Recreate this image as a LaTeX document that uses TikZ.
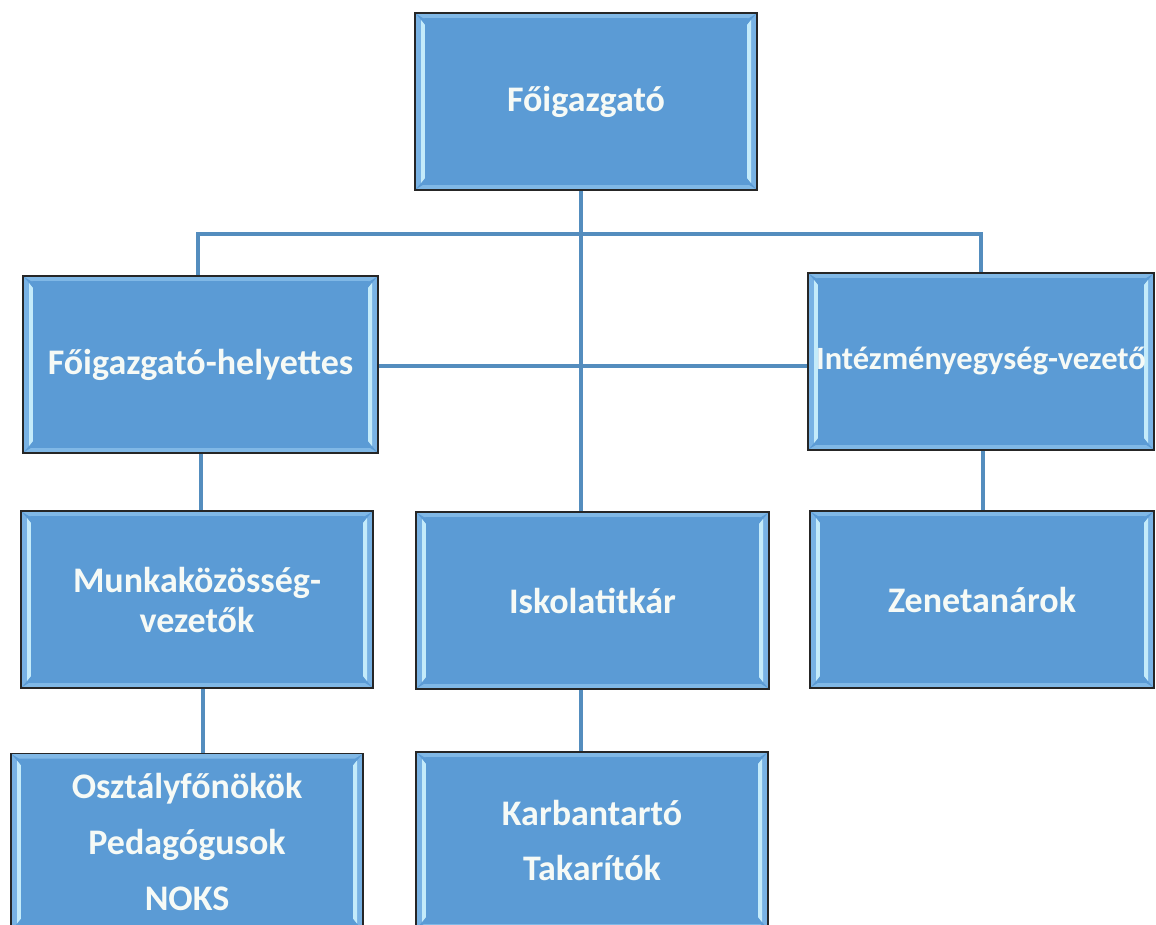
\documentclass[tikz,border=0pt]{standalone}
\usepackage{fontspec}
\setmainfont{Carlito}
\definecolor{boxblue}{RGB}{91,155,213}
\definecolor{bevellight}{RGB}{196,235,250}
\definecolor{beveledge}{RGB}{120,178,228}
\definecolor{bevelband}{RGB}{128,184,230}
\definecolor{linkblue}{RGB}{84,141,190}
\definecolor{txt}{RGB}{246,250,246}
\def\ppb{path picture bounding box}
\pgfdeclarelayer{bg}
\pgfsetlayers{bg,main}
\tikzset{
  orgbox/.style={draw=black!85, line width=1.4pt, fill=boxblue, text=txt,
    align=center, inner sep=0pt,
    font=\bfseries\fontsize{36}{40}\selectfont,
    path picture={
      \fill[bevelband] (\ppb.north west) -- (\ppb.north east)
        -- ([shift={(-8pt,-5pt)}]\ppb.north east) -- ([shift={(8pt,-5pt)}]\ppb.north west) -- cycle;
      \fill[bevelband] (\ppb.south west) -- (\ppb.south east)
        -- ([shift={(-8pt,5pt)}]\ppb.south east) -- ([shift={(8pt,5pt)}]\ppb.south west) -- cycle;
      \fill[beveledge] (\ppb.north west) -- ([shift={(10pt,-12pt)}]\ppb.north west)
        -- ([shift={(10pt,12pt)}]\ppb.south west) -- (\ppb.south west) -- cycle;
      \fill[beveledge] (\ppb.north east) -- ([shift={(-10pt,-12pt)}]\ppb.north east)
        -- ([shift={(-10pt,12pt)}]\ppb.south east) -- (\ppb.south east) -- cycle;
      \fill[bevellight] ([shift={(6pt,-7pt)}]\ppb.north west) -- ([shift={(10pt,-12pt)}]\ppb.north west)
        -- ([shift={(10pt,12pt)}]\ppb.south west) -- ([shift={(6pt,7pt)}]\ppb.south west) -- cycle;
      \fill[bevellight] ([shift={(-6pt,-7pt)}]\ppb.north east) -- ([shift={(-10pt,-12pt)}]\ppb.north east)
        -- ([shift={(-10pt,12pt)}]\ppb.south east) -- ([shift={(-6pt,7pt)}]\ppb.south east) -- cycle;
      \fill[boxblue] ([shift={(10pt,-5pt)}]\ppb.north west) rectangle ([shift={(-10pt,5pt)}]\ppb.south east);
    }},
  link/.style={draw=linkblue, line width=4pt}
}
\begin{document}
\begin{tikzpicture}[x=1pt,y=-1pt]
\useasboundingbox (0,0) rectangle (1156,924);
\clip (0,0) rectangle (1156,924);
\begin{pgfonlayer}{bg}
\fill[white] (0,0) rectangle (1156,924);
\end{pgfonlayer}

\coordinate (trunk) at (581,234);
\coordinate (bl) at (198,234);
\coordinate (br) at (981,234);
\coordinate (mid) at (0,366);
\coordinate (lx) at (201,0);
\coordinate (lx2) at (203,0);
\coordinate (rx) at (983,0);

\node[orgbox, minimum width=342pt, minimum height=177pt] (top) at (586,101.5) {Főigazgató};
\node[orgbox, minimum width=355pt, minimum height=177pt] (fh) at (200.5,364.5) {Főigazgató-helyettes};
\node[orgbox, minimum width=346pt, minimum height=177pt, font=\bfseries\fontsize{32.5}{38}\selectfont] (iv) at (981,361.5) {Intézményegység-vezető};
\node[orgbox, minimum width=352pt, minimum height=177pt] (mk) at (197,599.5) {Munkaközösség-\\vezetők};
\node[orgbox, minimum width=353pt, minimum height=177pt] (it) at (592.5,600.5) {Iskolatitkár};
\node[orgbox, minimum width=344pt, minimum height=177pt] (zt) at (982,599.5) {Zenetanárok};
\node[orgbox, minimum width=352pt, minimum height=177pt] (os) at (187,842) {Osztályfőnökök\\[16pt]Pedagógusok\\[16pt]NOKS};
\node[orgbox, minimum width=352pt, minimum height=177pt] (kt) at (592,840.5) {Karbantartó\\[15pt]Takarítók};

\begin{pgfonlayer}{bg}
\draw[link] (top.south -| trunk) -- (it.north -| trunk);
\draw[link] (fh.north -| bl) -- (bl) -- (br) -- (iv.north -| br);
\draw[link] (fh.east |- mid) -- (iv.west |- mid);
\draw[link] (fh.south -| lx) -- (mk.north -| lx);
\draw[link] (iv.south -| rx) -- (zt.north -| rx);
\draw[link] (mk.south -| lx2) -- (os.north -| lx2);
\draw[link] (it.south -| trunk) -- (kt.north -| trunk);
\end{pgfonlayer}
\end{tikzpicture}
\end{document}
